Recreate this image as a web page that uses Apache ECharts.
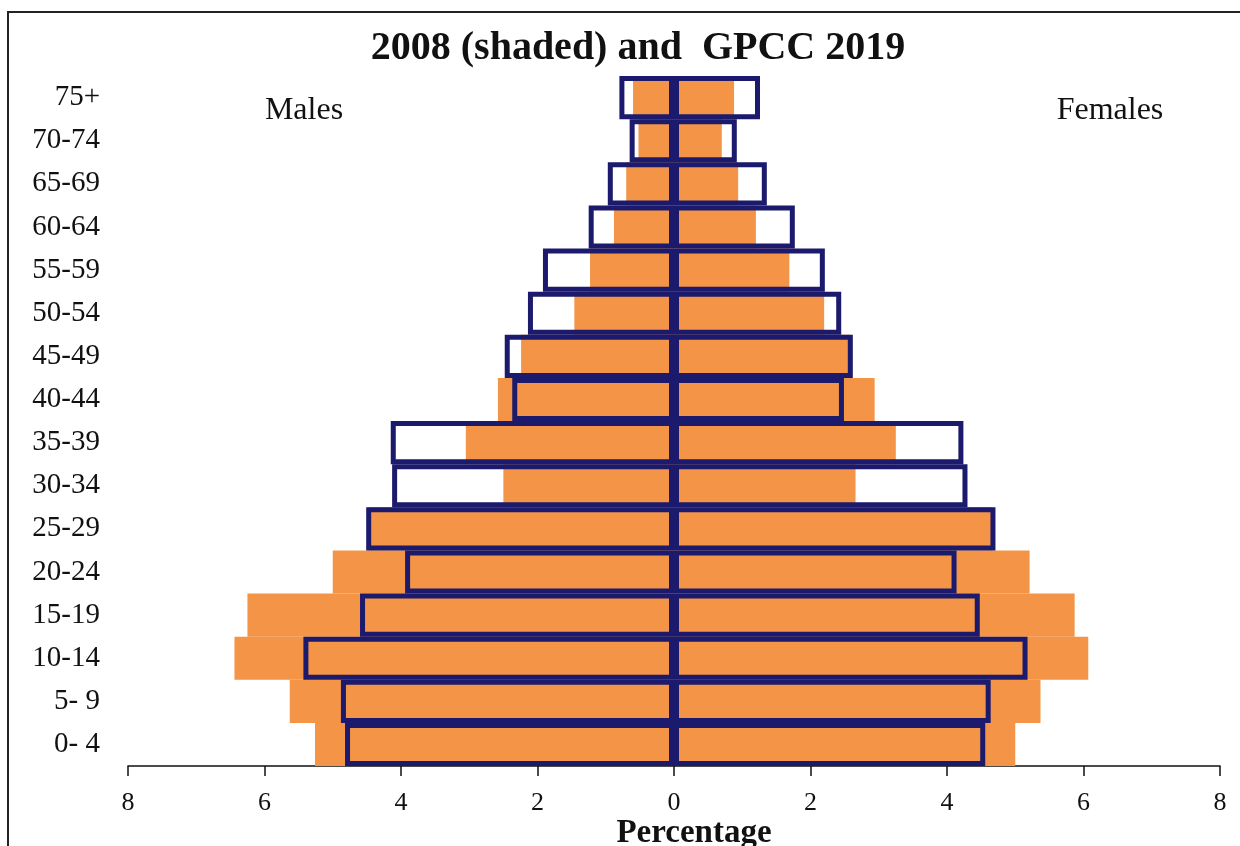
<!DOCTYPE html>
<html>
<head>
<meta charset="utf-8">
<script src="https://cdn.jsdelivr.net/npm/echarts@6/dist/echarts.min.js"></script>
<style>
  html, body { margin: 0; padding: 0; background: #fff; overflow: hidden; }
  #chart { width: 1240px; height: 846px; }
</style>
</head>
<body>
<div id="chart"></div>
<script>
// Age groups, bottom to top
const ageGroups = ['0- 4','5- 9','10-14','15-19','20-24','25-29','30-34','35-39','40-44','45-49','50-54','55-59','60-64','65-69','70-74','75+'];
// Percentages (shaded = 2008, outlined = GPCC 2019)
const males2008   = [5.26, 5.63, 6.44, 6.25, 5.00, 4.48, 2.50, 3.05, 2.58, 2.24, 1.46, 1.23, 0.88, 0.70, 0.52, 0.60];
const females2008 = [5.00, 5.37, 6.07, 5.87, 5.21, 4.66, 2.66, 3.25, 2.94, 2.58, 2.20, 1.69, 1.20, 0.94, 0.70, 0.88];
const males2019   = [4.82, 4.88, 5.43, 4.60, 3.94, 4.51, 4.13, 4.15, 2.37, 2.48, 2.14, 1.92, 1.25, 0.97, 0.65, 0.80];
const females2019 = [4.56, 4.64, 5.18, 4.48, 4.14, 4.71, 4.30, 4.24, 2.49, 2.62, 2.45, 2.21, 1.77, 1.36, 0.92, 1.26];
const xTicks = { min: -8, max: 8, interval: 2 };

const ORANGE = '#f39447';
const NAVY = '#1b1a6c';
const FONT = '"Liberation Serif", "Times New Roman", serif';

const chart = echarts.init(document.getElementById('chart'), null, { renderer: 'canvas' });

const outlineStyle = { color: 'rgba(0,0,0,0)', borderColor: NAVY, borderWidth: 5 };

chart.setOption({
  animation: false,
  backgroundColor: '#ffffff',
  grid: { left: 128, right: 20, top: 76, bottom: 80, containLabel: false, outerBoundsMode: 'none' },
  xAxis: {
    type: 'value',
    min: xTicks.min, max: xTicks.max, interval: xTicks.interval,
    axisLine: { show: true, onZero: false, lineStyle: { color: '#111', width: 1.5 } },
    axisTick: { show: true, inside: false, length: 10, lineStyle: { color: '#111', width: 1.5 } },
    axisLabel: {
      fontFamily: FONT, fontSize: 26, color: '#111', margin: 24,
      formatter: v => String(Math.abs(v))
    },
    splitLine: { show: false }
  },
  yAxis: {
    type: 'category',
    data: ageGroups,
    axisLine: { show: false },
    axisTick: { show: false },
    axisLabel: { fontFamily: FONT, fontSize: 29, color: '#111', margin: 28 },
    splitLine: { show: false }
  },
  series: [
    {
      name: 'Males 2008', type: 'bar', stack: 's2008',
      data: males2008.map(v => -v),
      barCategoryGap: '0%', barGap: '-100%',
      itemStyle: { color: ORANGE }
    },
    {
      name: 'Females 2008', type: 'bar', stack: 's2008',
      data: females2008,
      barCategoryGap: '0%', barGap: '-100%',
      itemStyle: { color: ORANGE }
    },
    {
      name: 'Males 2019', type: 'bar', stack: 's2019',
      data: males2019.map(v => -v),
      barCategoryGap: '0%', barGap: '-100%',
      itemStyle: outlineStyle
    },
    {
      name: 'Females 2019', type: 'bar', stack: 's2019',
      data: females2019,
      barCategoryGap: '0%', barGap: '-100%',
      itemStyle: outlineStyle
    }
  ],
  graphic: [
    {
      type: 'rect', silent: true, z: 100,
      shape: { x: 8, y: 12, width: 1260, height: 900 },
      style: { fill: 'none', stroke: '#222', lineWidth: 2 }
    },
    {
      type: 'text', z: 100,
      style: { x: 638, y: 49, text: '2008 (shaded) and  GPCC 2019', textAlign: 'center', textVerticalAlign: 'middle',
               font: 'bold 40px ' + FONT, fill: '#111' }
    },
    {
      type: 'text', z: 100,
      style: { x: 304, y: 111, text: 'Males', textAlign: 'center', textVerticalAlign: 'middle',
               font: '32px ' + FONT, fill: '#111' }
    },
    {
      type: 'text', z: 100,
      style: { x: 1110, y: 111, text: 'Females', textAlign: 'center', textVerticalAlign: 'middle',
               font: '32px ' + FONT, fill: '#111' }
    },
    {
      type: 'text', z: 100,
      style: { x: 694, y: 833, text: 'Percentage', textAlign: 'center', textVerticalAlign: 'middle',
               font: 'bold 33px ' + FONT, fill: '#111' }
    }
  ]
});
</script>
</body>
</html>
